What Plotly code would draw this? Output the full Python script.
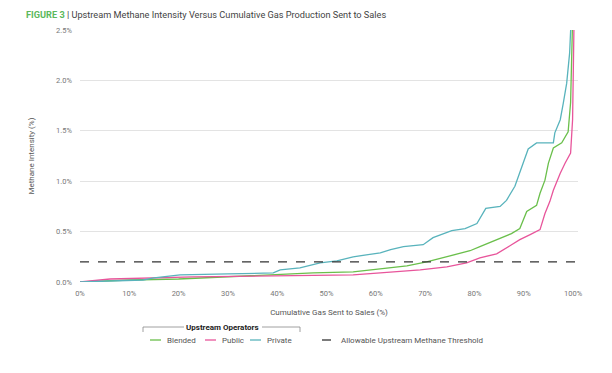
import plotly.graph_objects as go

# ---------------- data ----------------
series_names = ["Blended", "Public", "Private"]
series_colors = ["#6abf4b", "#e8559b", "#58b3bc"]

blended_x = [0, 10, 20, 28.4, 36.5, 47.3, 55.4, 60.9, 66.3, 70.3, 74.4, 77.1, 79.1, 81.1, 84.5, 87.5, 89.2,
             90.6, 92.6, 93.3, 94.3, 95.0, 96.0, 97.7, 99.0, 99.5, 99.9]
blended_y = [0, 0.02, 0.03, 0.05, 0.07, 0.09, 0.10, 0.13, 0.16, 0.20, 0.25, 0.29, 0.31, 0.35, 0.42, 0.48, 0.53,
             0.70, 0.76, 0.88, 1.01, 1.18, 1.33, 1.38, 1.49, 1.78, 2.6]

public_x = [0, 6.1, 23, 43, 55.4, 60.9, 69, 74.4, 78.4, 81.1, 84.5, 87.2, 89.2, 91.3, 93.3, 94.3, 95.3, 96.0,
            97.4, 98.4, 99.5, 99.9, 100.2]
public_y = [0, 0.03, 0.05, 0.06, 0.07, 0.09, 0.12, 0.15, 0.19, 0.24, 0.28, 0.36, 0.42, 0.47, 0.52, 0.68, 0.80,
            0.91, 1.08, 1.18, 1.28, 1.61, 2.6]

private_x = [0, 5, 12.8, 15, 18, 20.3, 30, 39.2, 40.6, 44.6, 48.7, 52.1, 55.4, 58, 60.9, 63, 65.6, 69.6, 71.6,
             75.4, 78.1, 80.5, 82.3, 85.2, 86.5, 88.2, 89.2, 90.9, 92.6, 96.0, 96.3, 97.4, 98.0, 98.7, 99.3, 99.6]
private_y = [0, 0.01, 0.02, 0.04, 0.06, 0.07, 0.08, 0.09, 0.12, 0.14, 0.19, 0.21, 0.25, 0.27, 0.29, 0.32, 0.35,
             0.37, 0.44, 0.51, 0.53, 0.58, 0.73, 0.75, 0.81, 0.95, 1.08, 1.32, 1.38, 1.38, 1.48, 1.61, 1.77, 1.97,
             2.27, 2.6]

threshold_value = 0.2
threshold_name = "Allowable Upstream Methane Threshold"
legend_group_title = "Upstream Operators"

x_ticks = [0, 10, 20, 30, 40, 50, 60, 70, 80, 90, 100]
x_tick_labels = [f"{v}%" for v in x_ticks]
y_ticks = [0, 0.5, 1.0, 1.5, 2.0, 2.5]
y_tick_labels = [f"{v:.1f}%" for v in y_ticks]

title_bold = "FIGURE 3"
title_rest = " | Upstream Methane Intensity Versus Cumulative Gas Production Sent to Sales"
x_title = "Cumulative Gas Sent to Sales (%)"
y_title = "Methane Intensity (%)"

# ---------------- figure ----------------
W, H = 612, 373
OFF = 8  # page body margin offset
# target plot area in page pixels: x 80..578, y 30..282
L = 80 - OFF
R = W - (578 - OFF)
T = 30 - OFF
B = H - (282 - OFF)
FONT = "Roboto, Arial, sans-serif"
pw, ph = W - L - R, H - T - B


def px2x(px):
    return (px - OFF - L) / pw


def py2y(py):
    return (H - B - (py - OFF)) / ph


fig = go.Figure()
for name, color, xs, ys in zip(series_names, series_colors,
                               [blended_x, public_x, private_x],
                               [blended_y, public_y, private_y]):
    fig.add_trace(go.Scatter(x=xs, y=ys, mode="lines", name=name,
                             line=dict(color=color, width=1.3), showlegend=False))

fig.add_trace(go.Scatter(x=[0, 101], y=[threshold_value, threshold_value], mode="lines",
                         name=threshold_name, line=dict(color="#333333", width=1.4, dash="dash"),
                         showlegend=False))

shapes = []
annotations = []

# bracket for group title
bx0, bx1, by, btick = 143, 300, 327, 332
shapes += [
    dict(type="line", xref="paper", yref="paper", x0=px2x(bx0), x1=px2x(184), y0=py2y(by), y1=py2y(by),
         line=dict(color="#888888", width=0.8)),
    dict(type="line", xref="paper", yref="paper", x0=px2x(262), x1=px2x(bx1), y0=py2y(by), y1=py2y(by),
         line=dict(color="#888888", width=0.8)),
    dict(type="line", xref="paper", yref="paper", x0=px2x(bx0), x1=px2x(bx0), y0=py2y(by), y1=py2y(btick),
         line=dict(color="#888888", width=0.8)),
    dict(type="line", xref="paper", yref="paper", x0=px2x(bx1), x1=px2x(bx1), y0=py2y(by), y1=py2y(btick),
         line=dict(color="#888888", width=0.8)),
]
annotations.append(dict(text=f"<b>{legend_group_title}</b>", xref="paper", yref="paper",
                        x=px2x(222), y=py2y(by), xanchor="center", yanchor="middle", showarrow=False,
                        font=dict(family=FONT, size=8, color="#222222")))

leg_y = 340
leg_starts = [150, 205, 250]
for name, color, sx in zip(series_names, series_colors, leg_starts):
    shapes.append(dict(type="line", xref="paper", yref="paper", x0=px2x(sx), x1=px2x(sx + 11),
                       y0=py2y(leg_y), y1=py2y(leg_y), line=dict(color=color, width=1.3)))
    annotations.append(dict(text=name, xref="paper", yref="paper", x=px2x(sx + 15), y=py2y(leg_y),
                            xanchor="left", yanchor="middle", showarrow=False,
                            font=dict(family=FONT, size=8, color="#555555")))
shapes.append(dict(type="line", xref="paper", yref="paper", x0=px2x(322), x1=px2x(334),
                   y0=py2y(leg_y), y1=py2y(leg_y), line=dict(color="#333333", width=1.3, dash="dash")))
annotations.append(dict(text=threshold_name, xref="paper", yref="paper", x=px2x(339), y=py2y(leg_y),
                        xanchor="left", yanchor="middle", showarrow=False,
                        font=dict(family=FONT, size=8, color="#555555")))

# title
annotations.append(dict(text=f"<b><span style='color:#5cb85c'>{title_bold}</span></b>{title_rest}",
                        xref="paper", yref="paper", x=px2x(24), y=py2y(14), xanchor="left",
                        yanchor="middle", showarrow=False,
                        font=dict(family=FONT, size=9.2, color="#444444")))

fig.update_layout(
    width=W, height=H,
    margin=dict(l=L, r=R, t=T, b=B, autoexpand=False),
    paper_bgcolor="white", plot_bgcolor="white",
    font=dict(family=FONT, size=8, color="#666666"),
    shapes=shapes, annotations=annotations,
    showlegend=False,
)
fig.update_xaxes(range=[0, 101], tickvals=x_ticks, ticktext=x_tick_labels, showgrid=False,
                 zeroline=False, showline=False, ticks="", automargin=False,
                 ticklabelstandoff=5,
                 tickfont=dict(family=FONT, size=7.5, color="#777777"),
                 title=dict(text=x_title, font=dict(family=FONT, size=8, color="#555555"), standoff=12))
fig.update_yaxes(range=[0, 2.5], tickvals=y_ticks, ticktext=y_tick_labels, showgrid=True,
                 gridcolor="#e3e3e3", gridwidth=1, zeroline=False, showline=False, ticks="",
                 automargin=False, ticklabelstandoff=7,
                 tickfont=dict(family=FONT, size=7.5, color="#777777"),
                 title=dict(text=y_title, font=dict(family=FONT, size=8, color="#555555"), standoff=20))

fig.write_html("out.html")
